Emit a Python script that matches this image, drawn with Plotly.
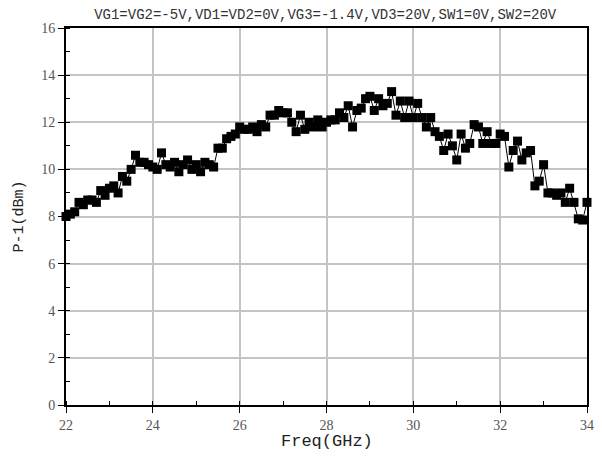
import plotly.graph_objects as go

freq = [round(22 + 0.1 * i, 1) for i in range(121)]
p1 = [8.0, 8.1, 8.2, 8.6, 8.5, 8.7, 8.7, 8.6, 9.1, 8.9,
      9.2, 9.3, 9.0, 9.7, 9.5, 10.0, 10.6, 10.3, 10.3, 10.2,
      10.1, 10.0, 10.7, 10.2, 10.1, 10.3, 9.9, 10.2, 10.4, 10.0,
      10.2, 9.9, 10.3, 10.2, 10.1, 10.9, 10.9, 11.3, 11.4, 11.5,
      11.8, 11.7, 11.7, 11.8, 11.6, 11.9, 11.8, 12.3, 12.3, 12.5,
      12.4, 12.4, 12.0, 11.6, 12.3, 11.7, 12.0, 11.8, 12.1, 11.8,
      12.0, 12.1, 12.1, 12.4, 12.2, 12.7, 11.8, 12.5, 12.6, 13.0,
      13.1, 12.5, 13.0, 12.7, 12.8, 13.3, 12.3, 12.9, 12.2, 12.9,
      12.2, 12.8, 12.2, 11.8, 12.2, 11.6, 11.4, 10.8, 11.5, 11.0,
      10.4, 11.5, 10.9, 11.1, 11.9, 11.8, 11.1, 11.6, 11.1, 11.1,
      11.5, 11.4, 10.1, 10.8, 11.2, 10.4, 10.7, 10.8, 9.3, 9.5,
      10.2, 9.0, 9.0, 8.9, 9.0, 8.6, 9.2, 8.6, 7.9, 7.85,
      8.6]

title_text = "VG1=VG2=-5V,VD1=VD2=0V,VG3=-1.4V,VD3=20V,SW1=0V,SW2=20V"
x_title = "Freq(GHz)"
y_title = "P-1(dBm)"

fig = go.Figure()
fig.add_trace(go.Scatter(
    x=freq, y=p1, mode="lines+markers",
    line=dict(color="black", width=1),
    marker=dict(symbol="square", size=9, color="black"),
    showlegend=False, cliponaxis=False,
))

axis_common = dict(
    showgrid=True, gridcolor="#c4c4c4", gridwidth=2,
    showline=True, linecolor="black", linewidth=2, mirror=True,
    ticks="outside", ticklen=6, tickcolor="black", tickwidth=1,
    tickfont=dict(family="Liberation Serif", size=14, color="#555555"),
    zeroline=False, automargin=False,
)

fig.update_xaxes(range=[22, 34], dtick=2, tick0=22,
                 minor=dict(dtick=1, ticks="inside", ticklen=4, tickcolor="black", showgrid=False),
                 **axis_common)
fig.update_yaxes(range=[0, 16], dtick=2, tick0=0,
                 minor=dict(dtick=1, ticks="inside", ticklen=4, tickcolor="black", showgrid=False),
                 title=dict(text=y_title, font=dict(family="Liberation Mono", size=15, color="#222222"), standoff=14),
                 **axis_common)

fig.add_annotation(text=x_title, xref="paper", yref="paper", x=0.5, y=-0.098,
                   xanchor="center", yanchor="middle", showarrow=False,
                   font=dict(family="Liberation Mono", size=17, color="#222222"))

fig.update_layout(
    width=594, height=442,
    margin=dict(l=58, r=15, t=20, b=45),
    plot_bgcolor="white", paper_bgcolor="white",
    title=dict(text=title_text, x=0.534, xanchor="center", y=0.997, yanchor="top",
               font=dict(family="Liberation Mono", size=14, color="#333333")),
)

fig.write_html("out.html")
